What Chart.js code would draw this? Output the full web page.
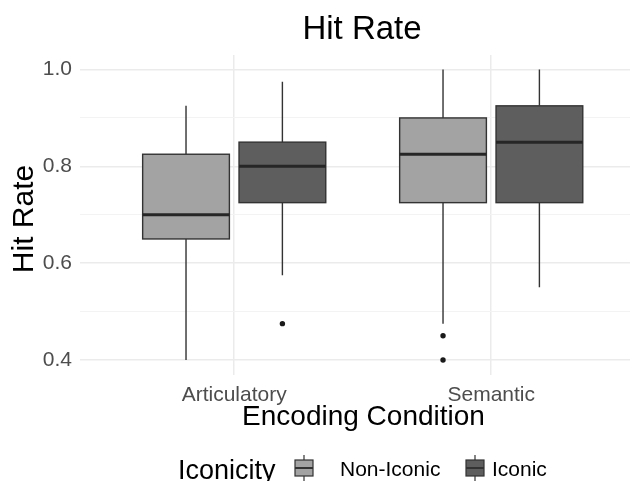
<!DOCTYPE html>
<html>
<head>
<meta charset="utf-8">
<script src="https://cdn.jsdelivr.net/npm/chart.js@4.4.1/dist/chart.umd.min.js"></script>
<style>
  html, body { margin: 0; padding: 0; background: #fff; }
  #wrap { width: 634px; height: 481px; }
</style>
</head>
<body>
<div id="wrap"><canvas id="chart" width="634" height="481"></canvas></div>
<script>
// categories on the x axis and the two fill groups
const categories = ['Articulatory', 'Semantic'];
const groups = ['Non-Iconic', 'Iconic'];

// box summaries, one value per category
const nonIconicLow    = [0.40, 0.475];
const nonIconicQ1     = [0.65, 0.725];
const nonIconicMedian = [0.70, 0.825];
const nonIconicQ3     = [0.825, 0.90];
const nonIconicHigh   = [0.925, 1.00];

const iconicLow    = [0.575, 0.55];
const iconicQ1     = [0.725, 0.725];
const iconicMedian = [0.80, 0.85];
const iconicQ3     = [0.85, 0.925];
const iconicHigh   = [0.975, 1.00];

// outliers per category
const nonIconicOutliers = [[], [0.45, 0.40]];
const iconicOutliers    = [[0.475], []];

const FONT = '"Liberation Sans", Arial, Helvetica, sans-serif';
const fills = ['#A3A3A3', '#5E5E5E'];
const lineCol = '#333333';
const dodge = [-0.1875, 0.1875];
const halfWidth = 0.16875;

const boxes = [
    { low: nonIconicLow, q1: nonIconicQ1, med: nonIconicMedian, q3: nonIconicQ3, high: nonIconicHigh },
    { low: iconicLow, q1: iconicQ1, med: iconicMedian, q3: iconicQ3, high: iconicHigh }
];

function outlierPoints(list, gi) {
    const pts = [];
    list.forEach((vals, i) => vals.forEach(v => pts.push({ x: i + 1 + dodge[gi], y: v })));
    return pts;
}

// draws whiskers, boxes and medians from the summaries through the scales
const boxPlugin = {
    id: 'boxes',
    beforeDatasetsDraw(chart) {
        const ctx = chart.ctx;
        const xs = chart.scales.x, ys = chart.scales.y;
        ctx.save();
        boxes.forEach((b, gi) => {
            categories.forEach((c, i) => {
                const cx = i + 1 + dodge[gi];
                const px = xs.getPixelForValue(cx);
                const left = xs.getPixelForValue(cx - halfWidth);
                const right = xs.getPixelForValue(cx + halfWidth);
                const yLow = ys.getPixelForValue(b.low[i]);
                const yQ1 = ys.getPixelForValue(b.q1[i]);
                const yMed = ys.getPixelForValue(b.med[i]);
                const yQ3 = ys.getPixelForValue(b.q3[i]);
                const yHigh = ys.getPixelForValue(b.high[i]);

                ctx.strokeStyle = lineCol;
                ctx.lineWidth = 1.4;
                ctx.beginPath();
                ctx.moveTo(px, yLow); ctx.lineTo(px, yQ1);
                ctx.moveTo(px, yQ3); ctx.lineTo(px, yHigh);
                ctx.stroke();

                ctx.fillStyle = fills[gi];
                ctx.fillRect(left, yQ3, right - left, yQ1 - yQ3);
                ctx.lineWidth = 1.4;
                ctx.strokeRect(left, yQ3, right - left, yQ1 - yQ3);

                ctx.strokeStyle = '#262626';
                ctx.lineWidth = 3;
                ctx.beginPath();
                ctx.moveTo(left, yMed); ctx.lineTo(right, yMed);
                ctx.stroke();
            });
        });
        ctx.restore();
    }
};

// title, axis titles and the legend row
const textPlugin = {
    id: 'texts',
    afterDraw(chart) {
        const ctx = chart.ctx;
        ctx.save();
        ctx.fillStyle = '#000';
        ctx.textBaseline = 'alphabetic';

        ctx.font = '33px ' + FONT;
        ctx.textAlign = 'center';
        ctx.fillText('Hit Rate', 362, 39);

        ctx.font = '28px ' + FONT;
        ctx.fillText('Encoding Condition', 363.5, 425);

        ctx.save();
        ctx.translate(33, 219);
        ctx.rotate(-Math.PI / 2);
        ctx.font = '30px ' + FONT;
        ctx.fillText('Hit Rate', 0, 0);
        ctx.restore();

        // legend
        ctx.textAlign = 'left';
        ctx.font = '27px ' + FONT;
        ctx.fillText('Iconicity', 178, 479);
        const keyX = [295, 466];
        const labX = [340, 492];
        groups.forEach((g, gi) => {
            const x = keyX[gi];
            ctx.strokeStyle = lineCol;
            ctx.lineWidth = 1.2;
            ctx.beginPath();
            ctx.moveTo(x + 9, 455); ctx.lineTo(x + 9, 481);
            ctx.stroke();
            ctx.fillStyle = fills[gi];
            ctx.fillRect(x, 460, 18, 16);
            ctx.strokeRect(x, 460, 18, 16);
            ctx.lineWidth = 2;
            ctx.beginPath();
            ctx.moveTo(x, 468); ctx.lineTo(x + 18, 468);
            ctx.stroke();
            ctx.fillStyle = '#000';
            ctx.font = '21px ' + FONT;
            ctx.fillText(g, labX[gi], 476);
        });
        ctx.restore();
    }
};

new Chart(document.getElementById('chart'), {
    type: 'scatter',
    data: {
        datasets: groups.map((g, gi) => ({
            label: g,
            data: outlierPoints(gi === 0 ? nonIconicOutliers : iconicOutliers, gi),
            backgroundColor: '#1A1A1A',
            borderWidth: 0,
            pointRadius: 2.7
        }))
    },
    options: {
        responsive: false,
        animation: false,
        layout: { padding: { top: 55, left: 0, right: 0, bottom: 0 } },
        plugins: {
            legend: { display: false },
            tooltip: { enabled: false },
            title: { display: false }
        },
        scales: {
            x: {
                type: 'linear',
                min: 0.4,
                max: 2.54,
                afterBuildTicks: s => { s.ticks = categories.map((c, i) => ({ value: i + 1 })); },
                afterFit: s => { s.height = 106.5; },
                ticks: {
                    callback: v => categories[Math.round(v) - 1],
                    font: { family: FONT, size: 21 },
                    color: '#4D4D4D',
                    padding: 8,
                    maxRotation: 0
                },
                grid: { color: '#EBEBEB', lineWidth: 1.5, drawTicks: false },
                border: { display: false }
            },
            y: {
                min: 0.37,
                max: 1.03,
                afterFit: s => { s.width = 80; },
                ticks: {
                    stepSize: 0.1,
                    includeBounds: false,
                    autoSkip: false,
                    callback: v => (Math.round(v * 10) % 2 === 0 ? v.toFixed(1) : ''),
                    font: { family: FONT, size: 21 },
                    color: '#4D4D4D',
                    padding: 8
                },
                grid: {
                    color: c => (Math.round(c.tick.value * 10) % 2 === 0 ? '#EBEBEB' : '#F3F3F3'),
                    lineWidth: c => (Math.round(c.tick.value * 10) % 2 === 0 ? 1.5 : 1),
                    drawTicks: false
                },
                border: { display: false }
            }
        }
    },
    plugins: [boxPlugin, textPlugin]
});
</script>
</body>
</html>
